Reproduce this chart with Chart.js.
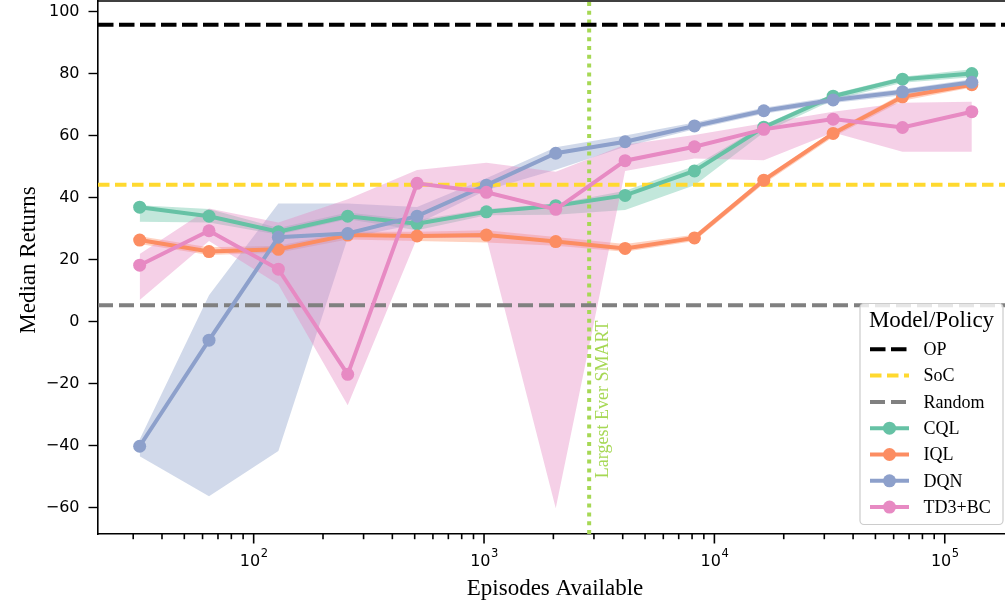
<!DOCTYPE html>
<html>
<head>
<meta charset="utf-8">
<script src="https://cdn.jsdelivr.net/npm/chart.js@4.4.1/dist/chart.umd.min.js"></script>
<style>
    html, body { margin: 0; padding: 0; background: #fff; }
    #wrap { width: 1005px; height: 602px; }
</style>
</head>
<body>
<div id="wrap"><canvas id="chart" width="1005" height="602"></canvas></div>
<script>
// データ
const episodes = [32, 64, 128, 256, 512, 1024, 2048, 4096, 8192, 16384, 32768, 65536, 131072];

const cqlMedian = [36.9, 34.0, 29.0, 34.0, 31.6, 35.4, 37.4, 40.7, 48.6, 62.7, 72.7, 78.2, 80.0];
const cqlLow    = [32.2, 32.0, 28.0, 33.0, 29.5, 34.3, 34.5, 36.0, 44.0, 61.0, 71.5, 77.0, 78.8];
const cqlHigh   = [37.5, 36.3, 30.2, 35.2, 32.8, 36.3, 38.0, 42.2, 50.2, 63.5, 73.5, 79.0, 81.4];

const iqlMedian = [26.3, 22.6, 23.3, 27.9, 27.6, 27.9, 25.8, 23.6, 27.0, 45.6, 60.7, 72.5, 76.4];
const iqlLow    = [25.0, 21.5, 22.2, 26.5, 26.0, 25.5, 24.5, 22.5, 26.0, 44.5, 59.5, 71.2, 75.5];
const iqlHigh   = [27.5, 24.0, 24.5, 29.0, 29.0, 29.5, 27.3, 25.0, 28.0, 46.5, 61.5, 73.5, 77.2];

const dqnMedian = [-40.2, -6.0, 27.2, 28.4, 34.0, 44.0, 54.3, 58.0, 63.1, 68.0, 71.5, 74.1, 77.2];
const dqnLow    = [-43.4, -56.3, -41.7, 27.0, 31.5, 42.4, 49.0, 56.4, 62.0, 67.0, 70.5, 73.0, 76.0];
const dqnHigh   = [-38.0, 8.5, 38.1, 38.1, 37.0, 46.2, 56.2, 60.0, 64.2, 69.0, 72.5, 75.0, 78.2];

const td3Median = [18.2, 29.3, 16.9, -17.0, 44.6, 41.7, 36.2, 51.9, 56.4, 62.0, 65.3, 62.6, 67.7];
const td3Low    = [7.0, 26.0, 12.0, -27.0, 27.0, 27.0, -60.2, 48.6, 52.6, 52.0, 61.0, 54.8, 54.8];
const td3High   = [21.8, 36.5, 32.0, 39.5, 48.9, 51.2, 48.3, 57.0, 60.2, 64.0, 67.7, 70.6, 70.9];

// 基準線
const opReturn = 95.7;
const socReturn = 44.1;
const randomReturn = 5.3;
const largestSmart = 2860;
const smartLabelY = -50.5;

// 軸
const xMin = 21.1, xMax = 182600;
const yMin = -68.5, yMax = 103.4;
const yTicks = [-60, -40, -20, 0, 20, 40, 60, 80, 100];
const xDecades = [2, 3, 4, 5];

const COLORS = {
    cql: '#66c2a5', iql: '#fc8d62', dqn: '#8da0cb', td3: '#e78ac3',
    op: '#000000', soc: '#ffd92f', random: '#808080', smart: '#a6d854'
};
const SERIF = '"Liberation Serif", "Times New Roman", serif';
const SANS = '"DejaVu Sans", sans-serif';

function pts(ys) {
    return episodes.map((x, i) => ({ x: x, y: ys[i] }));
}

function alpha(hex, a) {
    const n = parseInt(hex.slice(1), 16);
    return `rgba(${(n >> 16) & 255}, ${(n >> 8) & 255}, ${n & 255}, ${a})`;
}

function seriesLine(label, ys, color, order) {
    return {
        label: label, data: pts(ys), order: order,
        borderColor: color, backgroundColor: color, borderWidth: 4,
        pointRadius: 6.5, pointBorderWidth: 0, pointBackgroundColor: color,
        fill: false, tension: 0
    };
}

function band(high, low, color, order) {
    return [{
        label: '_band', data: pts(high), order: order,
        borderColor: 'rgba(0,0,0,0)', borderWidth: 0, pointRadius: 0,
        backgroundColor: alpha(color, 0.4), fill: '+1', tension: 0
    }, {
        label: '_band', data: pts(low), order: order,
        borderColor: 'rgba(0,0,0,0)', borderWidth: 0, pointRadius: 0,
        fill: false, tension: 0
    }];
}

function hLine(label, y, color, dash, order) {
    return {
        label: label, data: [{ x: xMin, y: y }, { x: xMax, y: y }], order: order,
        borderColor: color, borderWidth: 4, borderDash: dash, pointRadius: 0, fill: false
    };
}

const datasets = [
    seriesLine('TD3+BC', td3Median, COLORS.td3, 1),
    seriesLine('DQN', dqnMedian, COLORS.dqn, 2),
    seriesLine('IQL', iqlMedian, COLORS.iql, 3),
    seriesLine('CQL', cqlMedian, COLORS.cql, 4),
    hLine('OP', opReturn, COLORS.op, [15.5, 5.5], 5),
    hLine('SoC', socReturn, COLORS.soc, [11.5, 5.5], 5),
    hLine('Random', randomReturn, COLORS.random, [15, 6], 5),
    {
        label: '_smart', data: [{ x: largestSmart, y: yMin }, { x: largestSmart, y: yMax }], order: 5,
        borderColor: COLORS.smart, borderWidth: 4, borderDash: [4, 4.8], pointRadius: 0, fill: false
    },
    ...band(td3High, td3Low, COLORS.td3, 6),
    ...band(dqnHigh, dqnLow, COLORS.dqn, 7),
    ...band(iqlHigh, iqlLow, COLORS.iql, 8),
    ...band(cqlHigh, cqlLow, COLORS.cql, 9)
];

// 凡例の項目
const legendItems = [
    { label: 'OP', color: COLORS.op, dash: [15.5, 5.5] },
    { label: 'SoC', color: COLORS.soc, dash: [11.5, 5.5] },
    { label: 'Random', color: COLORS.random, dash: [15, 6] },
    { label: 'CQL', color: COLORS.cql, marker: true },
    { label: 'IQL', color: COLORS.iql, marker: true },
    { label: 'DQN', color: COLORS.dqn, marker: true },
    { label: 'TD3+BC', color: COLORS.td3, marker: true }
];

// スケールの余白をなくす
function noPadding(scale) {
    scale.paddingTop = 0;
    scale.paddingBottom = 0;
    scale.paddingLeft = 0;
    scale.paddingRight = 0;
}

// 軸の目盛り・ラベル・凡例などを描く
const decorPlugin = {
    id: 'decor',
    afterDraw(chart) {
        const ctx = chart.ctx;
        const area = chart.chartArea;
        const xs = chart.scales.x;
        const ys = chart.scales.y;
        ctx.save();

        // 上の枠線
        ctx.strokeStyle = '#000';
        ctx.lineWidth = 1.6;
        ctx.beginPath();
        ctx.moveTo(area.left, area.top);
        ctx.lineTo(area.right, area.top);
        ctx.stroke();

        // x軸の目盛り
        for (let d = 1; d <= 5; d++) {
            for (let m = 1; m <= 9; m++) {
                const v = m * Math.pow(10, d);
                if (v < xMin || v > xMax) continue;
                const px = xs.getPixelForValue(v);
                const len = m === 1 ? 9.5 : 5.2;
                ctx.beginPath();
                ctx.moveTo(px, area.bottom);
                ctx.lineTo(px, area.bottom + len);
                ctx.stroke();
            }
        }

        // x軸ラベル 10^n
        ctx.fillStyle = '#000';
        ctx.textBaseline = 'alphabetic';
        xDecades.forEach(d => {
            const px = xs.getPixelForValue(Math.pow(10, d));
            ctx.font = `16px ${SANS}`;
            const wBase = ctx.measureText('10').width;
            ctx.font = `11.5px ${SANS}`;
            const wExp = ctx.measureText(String(d)).width;
            const start = px - (wBase + wExp) / 2;
            ctx.font = `16px ${SANS}`;
            ctx.textAlign = 'left';
            ctx.fillText('10', start, 566);
            ctx.font = `11.5px ${SANS}`;
            ctx.fillText(String(d), start + wBase + 0.5, 557);
        });

        // 軸タイトル
        ctx.font = `23px ${SERIF}`;
        ctx.textAlign = 'center';
        ctx.fillText('Episodes Available', (area.left + area.right) / 2 + 3.5, 595);
        ctx.save();
        ctx.translate(35, 260);
        ctx.rotate(-Math.PI / 2);
        ctx.fillText('Median Returns', 0, 0);
        ctx.restore();

        // 縦線の注記
        ctx.save();
        ctx.fillStyle = COLORS.smart;
        ctx.font = `18px ${SERIF}`;
        ctx.textAlign = 'left';
        ctx.translate(xs.getPixelForValue(largestSmart) + 19, ys.getPixelForValue(smartLabelY));
        ctx.rotate(-Math.PI / 2);
        ctx.fillText('Largest Ever SMART', 0, 0);
        ctx.restore();

        // 凡例
        const bx = 860, by = 303.5, bw = 143, bh = 221;
        ctx.beginPath();
        ctx.roundRect(bx, by, bw, bh, 4);
        ctx.fillStyle = 'rgba(255,255,255,0.8)';
        ctx.fill();
        ctx.strokeStyle = '#cccccc';
        ctx.lineWidth = 1.2;
        ctx.stroke();

        ctx.fillStyle = '#000';
        ctx.font = `23px ${SERIF}`;
        ctx.textAlign = 'center';
        ctx.fillText('Model/Policy', bx + bw / 2, 327);

        ctx.font = `18px ${SERIF}`;
        ctx.textAlign = 'left';
        legendItems.forEach((it, i) => {
            const base = 355 + i * 26.3;
            const hy = base - 5.7;
            ctx.strokeStyle = it.color;
            ctx.lineWidth = 4;
            ctx.setLineDash(it.dash || []);
            ctx.beginPath();
            ctx.moveTo(870, hy);
            ctx.lineTo(909, hy);
            ctx.stroke();
            ctx.setLineDash([]);
            if (it.marker) {
                ctx.fillStyle = it.color;
                ctx.beginPath();
                ctx.arc(889.5, hy, 6.5, 0, Math.PI * 2);
                ctx.fill();
            }
            ctx.fillStyle = '#000';
            ctx.fillText(it.label, 923.5, base);
        });

        ctx.restore();
    }
};

new Chart(document.getElementById('chart'), {
    type: 'line',
    data: { datasets: datasets },
    options: {
        responsive: false,
        animation: false,
        devicePixelRatio: 1,
        layout: { autoPadding: false, padding: { top: 1, right: 0, left: 0, bottom: 0 } },
        plugins: {
            legend: { display: false },
            tooltip: { enabled: false },
            filler: { propagate: false }
        },
        scales: {
            x: {
                type: 'logarithmic',
                min: xMin, max: xMax,
                grid: { display: false },
                border: { display: true, color: '#000', width: 1.6 },
                ticks: { display: false },
                afterFit(scale) { scale.height = 68; noPadding(scale); }
            },
            y: {
                type: 'linear',
                min: yMin, max: yMax,
                afterBuildTicks(scale) { scale.ticks = yTicks.map(v => ({ value: v })); },
                grid: {
                    display: true, drawOnChartArea: false, drawTicks: true,
                    tickLength: 9.5, tickColor: '#000', tickWidth: 1.4
                },
                border: { display: true, color: '#000', width: 1.6 },
                ticks: {
                    color: '#000', padding: 9,
                    font: { family: SANS, size: 16 },
                    callback: v => (v < 0 ? '\u2212' + Math.abs(v) : String(v))
                },
                afterFit(scale) { scale.width = 98; noPadding(scale); }
            }
        }
    },
    plugins: [decorPlugin]
});
</script>
</body>
</html>
